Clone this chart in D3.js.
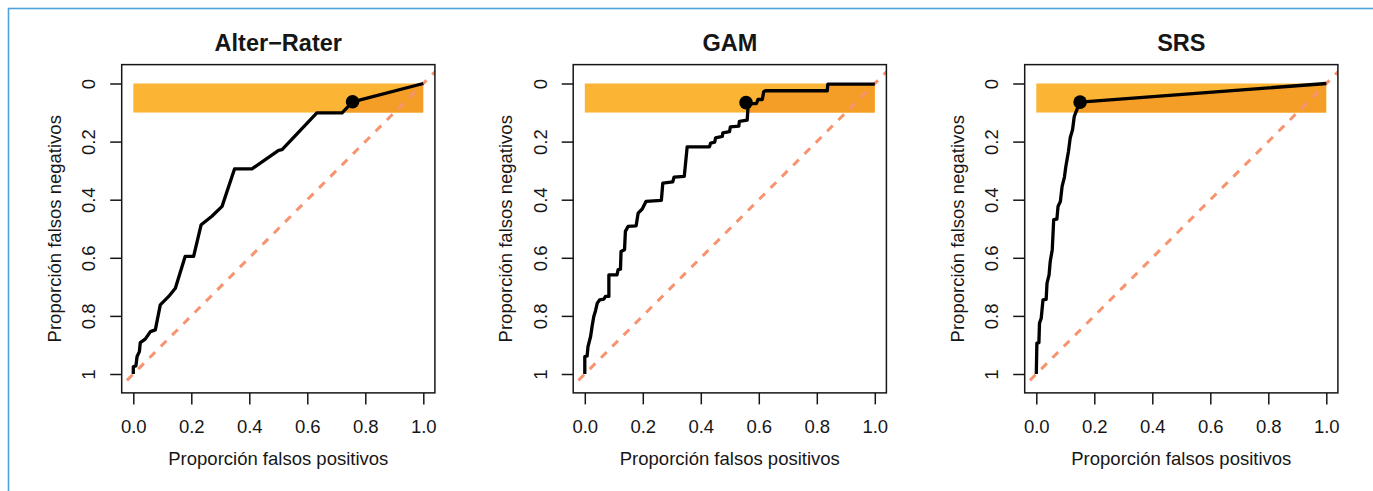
<!DOCTYPE html>
<html>
<head>
<meta charset="utf-8">
<script src="https://cdn.jsdelivr.net/npm/d3@7"></script>
<style>
  body { margin: 0; background: #fff; }
  svg { display: block; font-family: "Liberation Sans", Arial, Helvetica, sans-serif; }
</style>
</head>
<body>
<div class="chart"></div>
<script>
// panel titles
const methods = ['Alter\u2212Rater', 'GAM', 'SRS'];

// ROC points: proporcion falsos positivos / falsos negativos
const fpAlter = [0, 0, 0.009, 0.013, 0.021, 0.024, 0.041, 0.059, 0.076, 0.093, 0.122, 0.145, 0.179, 0.208, 0.234, 0.271, 0.306, 0.349, 0.409, 0.501, 0.513, 0.633, 0.72, 0.756, 1];
const fnAlter = [1, 0.975, 0.972, 0.94, 0.923, 0.892, 0.88, 0.854, 0.848, 0.762, 0.733, 0.705, 0.595, 0.595, 0.486, 0.457, 0.423, 0.294, 0.294, 0.23, 0.228, 0.101, 0.101, 0.063, 0];

const fpGam = [0, 0, 0.008, 0.011, 0.02, 0.025, 0.031, 0.037, 0.043, 0.051, 0.066, 0.071, 0.083, 0.083, 0.111, 0.115, 0.123, 0.125, 0.137, 0.14, 0.149, 0.177, 0.184, 0.198, 0.211, 0.264, 0.269, 0.303, 0.308, 0.343, 0.353, 0.43, 0.434, 0.448, 0.451, 0.474, 0.476, 0.499, 0.502, 0.531, 0.533, 0.56, 0.563, 0.566, 0.592, 0.597, 0.612, 0.617, 0.623, 0.836, 0.838, 1];
const fnGam = [1, 0.94, 0.938, 0.906, 0.871, 0.837, 0.802, 0.782, 0.756, 0.745, 0.742, 0.733, 0.733, 0.659, 0.659, 0.641, 0.639, 0.578, 0.572, 0.509, 0.492, 0.49, 0.446, 0.432, 0.406, 0.402, 0.343, 0.339, 0.322, 0.32, 0.218, 0.218, 0.205, 0.202, 0.187, 0.182, 0.17, 0.166, 0.149, 0.147, 0.13, 0.126, 0.078, 0.069, 0.069, 0.055, 0.055, 0.028, 0.025, 0.025, 0.002, 0.002];

const fpSrs = [0, 0.002, 0.009, 0.011, 0.017, 0.023, 0.034, 0.037, 0.044, 0.048, 0.055, 0.06, 0.071, 0.075, 0.083, 0.089, 0.097, 0.102, 0.111, 0.117, 0.125, 0.131, 0.14, 0.151, 1];
const fnSrs = [1, 0.894, 0.892, 0.825, 0.808, 0.745, 0.743, 0.687, 0.659, 0.613, 0.572, 0.469, 0.467, 0.423, 0.406, 0.354, 0.322, 0.285, 0.233, 0.187, 0.159, 0.113, 0.09, 0.064, 0];

// chosen cut-off point in each curve
const cutFp = [0.756, 0.556, 0.151];
const cutFn = [0.063, 0.066, 0.064];

// shaded band of allowed false negatives
const bandFn = [0, 0.1];

const xTicks = [0, 0.2, 0.4, 0.6, 0.8, 1];
const yTicks = [0, 0.2, 0.4, 0.6, 0.8, 1];

const curves = [
    {fp: fpAlter, fn: fnAlter},
    {fp: fpGam, fn: fnGam},
    {fp: fpSrs, fn: fnSrs}
];

const W = 1373, H = 491;
const panelStep = 451.5;
const plotX0 = 133.3, plotW = 290;
const plotY0 = 83.5, plotY1 = 374;

const svg = d3.select('.chart')
    .append('svg')
    .attr('width', W)
    .attr('height', H);

// light blue frame around the figure
svg.append('rect')
    .attr('x', 8.5)
    .attr('y', 8.5)
    .attr('width', W + 50)
    .attr('height', H + 50)
    .attr('fill', 'none')
    .attr('stroke', '#4ea2de')
    .attr('stroke-width', 1.6);

const fontSize = 18.5;
const ink = '#161616';

curves.forEach((c, i) => {
    const x = d3.scaleLinear()
        .domain([0, 1])
        .range([plotX0 + i * panelStep, plotX0 + i * panelStep + plotW]);
    const y = d3.scaleLinear()
        .domain([0, 1])
        .range([plotY0, plotY1]);

    const bx0 = x(-0.04), bx1 = x(1.04);
    const by0 = y(-0.065), by1 = y(1.065);

    const g = svg.append('g');

    const clipId = 'clip' + i;
    g.append('clipPath')
        .attr('id', clipId)
        .append('rect')
        .attr('x', bx0).attr('y', by0)
        .attr('width', bx1 - bx0).attr('height', by1 - by0);

    const bandId = 'band' + i;
    g.append('clipPath')
        .attr('id', bandId)
        .append('rect')
        .attr('x', x(0)).attr('y', y(bandFn[0]))
        .attr('width', x(1) - x(0)).attr('height', y(bandFn[1]) - y(bandFn[0]));

    // band
    g.append('rect')
        .attr('x', x(0))
        .attr('y', y(bandFn[0]))
        .attr('width', x(1) - x(0))
        .attr('height', y(bandFn[1]) - y(bandFn[0]))
        .attr('fill', '#fbb433');

    const pts = c.fp.map((d, k) => [d, c.fn[k]]);

    // partial area under the curve inside the band
    const area = pts.concat([[1, 1], [0, 1]]);
    g.append('path')
        .attr('clip-path', `url(#${bandId})`)
        .attr('d', d3.line().x(d => x(d[0])).y(d => y(d[1]))(area) + 'Z')
        .attr('fill', '#f49d27');

    // reference diagonal
    g.append('line')
        .attr('clip-path', `url(#${clipId})`)
        .attr('x1', x(-0.1)).attr('y1', y(1.1))
        .attr('x2', x(1.1)).attr('y2', y(-0.1))
        .attr('stroke', '#f7946f')
        .attr('stroke-width', 3)
        .attr('stroke-dasharray', '8,8');

    // ROC curve
    g.append('path')
        .datum(pts)
        .attr('d', d3.line().x(d => x(d[0])).y(d => y(d[1])))
        .attr('fill', 'none')
        .attr('stroke', '#000')
        .attr('stroke-width', 3.3)
        .attr('stroke-linejoin', 'round');

    g.append('circle')
        .attr('cx', x(cutFp[i]))
        .attr('cy', y(cutFn[i]))
        .attr('r', 6.8)
        .attr('fill', '#000');

    // box
    g.append('rect')
        .attr('x', bx0).attr('y', by0)
        .attr('width', bx1 - bx0).attr('height', by1 - by0)
        .attr('fill', 'none')
        .attr('stroke', ink)
        .attr('stroke-width', 1.5);

    // x axis
    const xAxis = g.append('g')
        .attr('transform', `translate(0, ${by1})`)
        .call(d3.axisBottom(x)
            .tickValues(xTicks)
            .tickFormat(d3.format('.1f'))
            .tickSize(11.5)
            .tickPadding(15));
    xAxis.select('.domain').remove();
    xAxis.selectAll('line').attr('stroke', ink).attr('stroke-width', 1.5);
    xAxis.selectAll('text')
        .attr('font-size', fontSize)
        .attr('font-family', null)
        .attr('fill', ink);

    // y axis with rotated labels
    const yAxis = g.append('g')
        .attr('transform', `translate(${bx0}, 0)`)
        .call(d3.axisLeft(y)
            .tickValues(yTicks)
            .tickFormat(d => (d === 0 || d === 1) ? String(d) : d.toFixed(1))
            .tickSize(11.5));
    yAxis.select('.domain').remove();
    yAxis.selectAll('line').attr('stroke', ink).attr('stroke-width', 1.5);
    yAxis.selectAll('text')
        .attr('x', null)
        .attr('dy', null)
        .attr('text-anchor', 'middle')
        .attr('transform', 'translate(-26.5, 0) rotate(-90)')
        .attr('font-size', fontSize)
        .attr('font-family', null)
        .attr('fill', ink);

    // titles
    g.append('text')
        .attr('x', (bx0 + bx1) / 2)
        .attr('y', 51)
        .attr('text-anchor', 'middle')
        .attr('font-size', 23.5)
        .attr('font-weight', 'bold')
        .attr('fill', ink)
        .text(methods[i]);

    g.append('text')
        .attr('x', (bx0 + bx1) / 2)
        .attr('y', 465)
        .attr('text-anchor', 'middle')
        .attr('font-size', fontSize)
        .attr('fill', ink)
        .text('Proporción falsos positivos');

    g.append('text')
        .attr('transform', `translate(${bx0 - 61}, ${(by0 + by1) / 2}) rotate(-90)`)
        .attr('text-anchor', 'middle')
        .attr('font-size', fontSize)
        .attr('fill', ink)
        .text('Proporción falsos negativos');
});
</script>
</body>
</html>
